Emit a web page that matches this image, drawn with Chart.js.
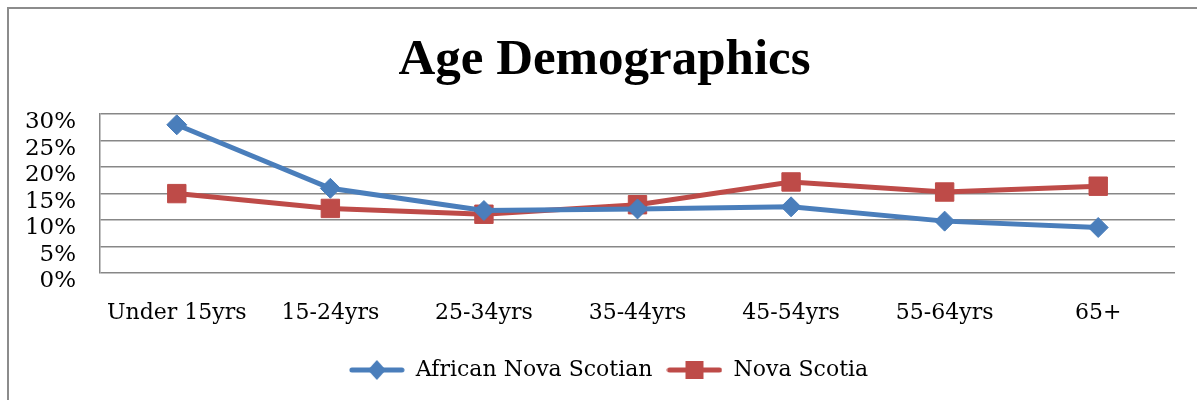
<!DOCTYPE html>
<html>
<head>
<meta charset="utf-8">
<script src="https://cdn.jsdelivr.net/npm/chart.js@4"></script>
<style>
  html, body { margin: 0; padding: 0; background: #fff; }
  #wrap { position: relative; width: 1197px; height: 400px; overflow: hidden; }
  #frame { position: absolute; left: 7px; top: 7px; width: 1300px; height: 500px;
           border-left: 2px solid #8c8c8c; border-top: 2px solid #8c8c8c; }
  canvas { position: absolute; left: 0; top: 0; }
</style>
</head>
<body>
<div id="wrap">
  <div id="frame"></div>
  <canvas id="chart" width="1197" height="400"></canvas>
</div>
<script>
var ageGroups = ['Under 15yrs', '15-24yrs', '25-34yrs', '35-44yrs', '45-54yrs', '55-64yrs', '65+'];
var africanNovaScotian = [28, 16, 11.8, 12.1, 12.5, 9.8, 8.6];
var novaScotia = [15, 12.2, 11.1, 12.9, 17.2, 15.3, 16.4];

var blue = '#4A7EBB';
var red = '#BE4B48';
var serif = '"DejaVu Serif", serif';

// legend icons: a short line with the marker on it
function legendIcon(color, shape) {
  var c = document.createElement('canvas');
  c.width = 56; c.height = 22;
  var g = c.getContext('2d');
  g.strokeStyle = color;
  g.fillStyle = color;
  g.lineWidth = 5;
  g.lineCap = 'round';
  g.beginPath();
  g.moveTo(3, 11); g.lineTo(53, 11);
  g.stroke();
  g.beginPath();
  if (shape == 'diamond') {
    g.moveTo(28, 1); g.lineTo(37, 11); g.lineTo(28, 21); g.lineTo(19, 11);
    g.closePath();
    g.fill();
  } else {
    g.fillRect(19, 2, 18, 18);
  }
  return c;
}
var icons = [legendIcon(blue, 'diamond'), legendIcon(red, 'square')];

// title and legend sit a bit right of the canvas centre in the original
var nudge = {
  id: 'nudge',
  afterLayout: function(chart) {
    chart.titleBlock.left += 17;
    chart.titleBlock.right += 17;
    chart.legend.left += 21;
    chart.legend.right += 21;
  }
};

var chartdata = {
  labels: ageGroups,
  datasets: [
    {
      label: 'African Nova Scotian',
      data: africanNovaScotian,
      borderColor: blue,
      backgroundColor: blue,
      borderWidth: 5,
      pointStyle: 'rectRot',
      pointRadius: 10,
      pointHoverRadius: 10,
      pointBorderWidth: 1,
      tension: 0
    },
    {
      label: 'Nova Scotia',
      data: novaScotia,
      borderColor: red,
      backgroundColor: red,
      borderWidth: 5,
      pointStyle: 'rect',
      pointRadius: 13,
      pointHoverRadius: 13,
      pointBorderWidth: 1,
      tension: 0
    }
  ]
};

var ctx = document.getElementById('chart');

var lineGraph = new Chart(ctx, {
  type: 'line',
  data: chartdata,
  plugins: [nudge],
  options: {
    responsive: false,
    animation: false,
    layout: { padding: { left: 0, right: 22, top: 0, bottom: 9 } },
    plugins: {
      title: {
        display: true,
        text: 'Age Demographics',
        color: '#000',
        font: { family: '"Liberation Serif", serif', size: 51, weight: 'bold' },
        padding: { top: 30, bottom: 23 }
      },
      legend: {
        position: 'bottom',
        labels: {
          usePointStyle: true,
          pointStyleWidth: 56,
          color: '#000',
          font: { family: serif, size: 22 },
          padding: 14,
          generateLabels: function(chart) {
            var items = Chart.defaults.plugins.legend.labels.generateLabels(chart);
            items.forEach(function(it, i) { it.pointStyle = icons[i]; });
            return items;
          }
        }
      },
      tooltip: { enabled: false }
    },
    scales: {
      x: {
        offset: true,
        grid: { display: false, drawTicks: false },
        border: { display: false },
        ticks: { color: '#000', font: { family: serif, size: 22 }, padding: 27, maxRotation: 0, autoSkip: false },
        afterFit: function(scale) { scale.height = 72; }
      },
      y: {
        min: 0,
        max: 30,
        grid: { color: '#878787', lineWidth: 1.5, drawTicks: false },
        border: { display: true, color: '#878787', width: 1.5 },
        ticks: {
          stepSize: 5,
          autoSkip: false,
          color: '#000',
          font: { family: serif, size: 23 },
          padding: 24,
          labelOffset: 8,
          callback: function(v) { return v + '%'; }
        },
        afterFit: function(scale) { scale.width = 100; }
      }
    }
  }
});
</script>
</body>
</html>
